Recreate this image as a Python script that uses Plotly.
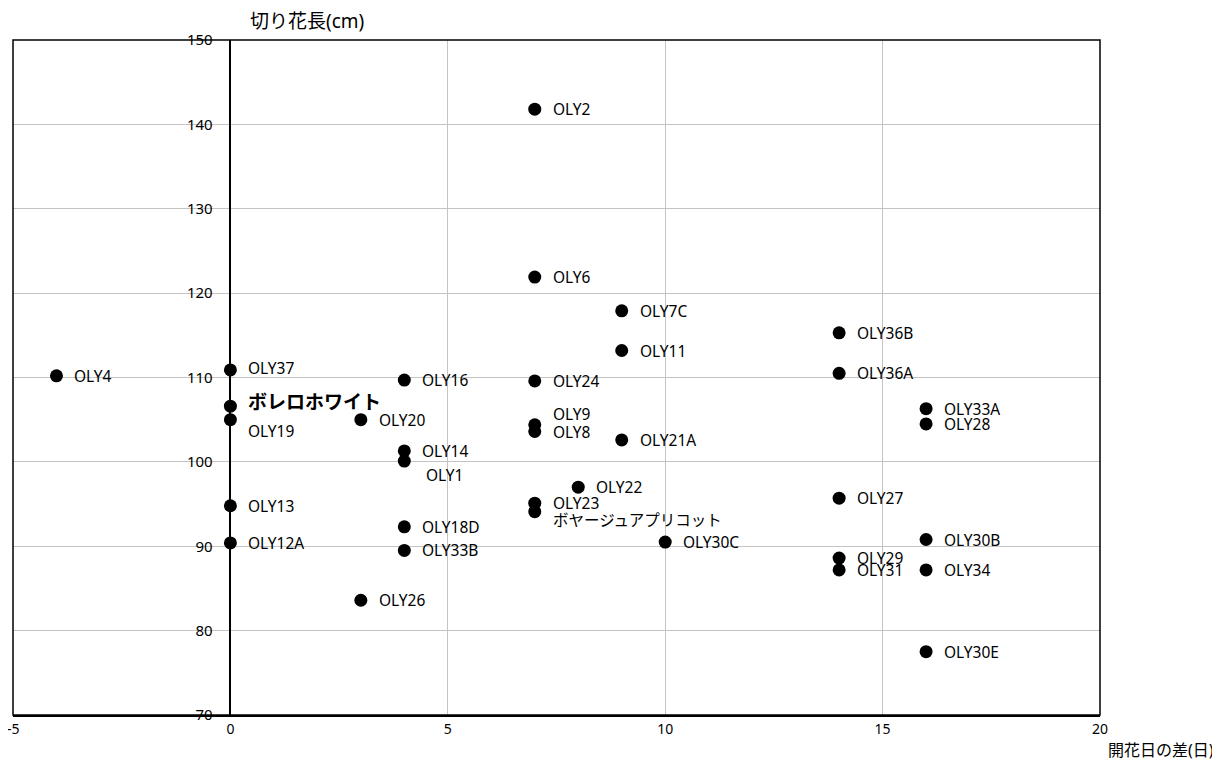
import plotly.graph_objects as go

# ---- data ----
names = ["OLY4", "OLY37", "ボレロホワイト", "OLY19", "OLY13", "OLY12A",
         "OLY16", "OLY20", "OLY14", "OLY1", "OLY18D", "OLY33B", "OLY26",
         "OLY2", "OLY6", "OLY24", "OLY9", "OLY8", "OLY23", "ボヤージュアプリコット",
         "OLY22", "OLY7C", "OLY11", "OLY21A", "OLY30C",
         "OLY36B", "OLY36A", "OLY27", "OLY29", "OLY31",
         "OLY33A", "OLY28", "OLY30B", "OLY34", "OLY30E"]
days_diff = [-4, 0, 0, 0, 0, 0,
             4, 3, 4, 4, 4, 4, 3,
             7, 7, 7, 7, 7, 7, 7,
             8, 9, 9, 9, 10,
             14, 14, 14, 14, 14,
             16, 16, 16, 16, 16]
stem_length = [110.2, 110.9, 106.6, 105.0, 94.8, 90.4,
               109.7, 105.0, 101.3, 100.1, 92.3, 89.5, 83.6,
               141.8, 121.9, 109.6, 104.4, 103.6, 95.1, 94.1,
               97.0, 117.9, 113.2, 102.6, 90.5,
               115.3, 110.5, 95.7, 88.6, 87.2,
               106.3, 104.5, 90.8, 87.2, 77.5]
x_ticks = [-5, 0, 5, 10, 15, 20]
y_ticks = [70, 80, 90, 100, 110, 120, 130, 140, 150]

# ---- label style offsets (pixels) ----
label_offsets = {
    "OLY19": (16, -11),
    "OLY1": (20, -14),
    "OLY9": (16, 11),
    "ボヤージュアプリコット": (16, -8),
    "ボレロホワイト": (16, 4),
    "OLY37": (16, 2),
}
bold_labels = {"ボレロホワイト"}

FONT = "Noto Sans, Noto Sans CJK JP, sans-serif"

fig = go.Figure()
fig.add_trace(go.Scatter(
    x=days_diff, y=stem_length, mode="markers",
    marker=dict(color="black", size=13),
    hoverinfo="text", text=names, showlegend=False,
))

annotations = []
for n, xv, yv in zip(names, days_diff, stem_length):
    xs, ys = label_offsets.get(n, (16, 0))
    if n in bold_labels:
        txt = "<b>" + n + "</b>"
        fnt = dict(family=FONT, size=19, color="black")
    else:
        txt = n
        fnt = dict(family=FONT, size=15.5, color="black")
    annotations.append(dict(
        x=xv, y=yv, xref="x", yref="y", text=txt, showarrow=False,
        xanchor="left", yanchor="middle", xshift=xs, yshift=ys, font=fnt,
    ))

# first x tick label sits at the page edge; draw it as text so it is not dropped
annotations.append(dict(
    x=x_ticks[0], y=0, xref="x", yref="paper", text=str(x_ticks[0]), showarrow=False,
    xanchor="center", yanchor="top", yshift=-2,
    font=dict(family=FONT, size=14, color="black"),
))
annotations.append(dict(
    x=0, y=1, xref="x", yref="paper", text="切り花長(cm)", showarrow=False,
    xanchor="left", yanchor="bottom", xshift=18, yshift=4,
    font=dict(family=FONT, size=19, color="black"),
))
annotations.append(dict(
    x=1, y=0, xref="paper", yref="paper", text="開花日の差(日)", showarrow=False,
    xanchor="right", yanchor="top", xshift=116, yshift=-22,
    font=dict(family=FONT, size=16, color="black"),
))

# page body adds an 8px margin, so the figure is sized to fit the viewport
fig.update_layout(
    width=1212, height=766,
    margin=dict(l=5, r=120, t=32, b=59, autoexpand=False),
    paper_bgcolor="white", plot_bgcolor="white",
    font=dict(family=FONT, size=14, color="black"),
    annotations=annotations,
    xaxis=dict(
        range=[-5, 20], tickvals=x_ticks[1:], ticktext=[str(v) for v in x_ticks[1:]],
        showgrid=True, gridcolor="#c4c4c4", gridwidth=1,
        zeroline=False, showline=True, linecolor="black", linewidth=2,
        mirror=False, ticks="", ticklabelstandoff=0, automargin=False,
        tickfont=dict(family=FONT, size=14, color="black"),
    ),
    yaxis=dict(
        range=[70, 150], tickvals=y_ticks,
        showgrid=True, gridcolor="#c4c4c4", gridwidth=1,
        zeroline=False, showline=True, linecolor="black", linewidth=1.5,
        anchor="free", position=0.2, ticks="", automargin=False,
        ticklabelstandoff=14,
        tickfont=dict(family=FONT, size=15, color="black"),
    ),
    shapes=[dict(type="rect", xref="paper", yref="paper", x0=0, y0=0, x1=1, y1=1,
                 line=dict(color="black", width=1.5), layer="above")],
)

fig.write_html("out.html")
